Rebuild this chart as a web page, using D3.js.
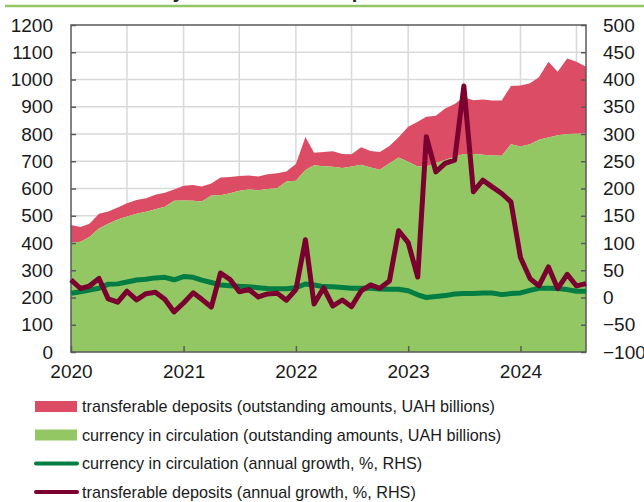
<!DOCTYPE html>
<html>
<head>
<meta charset="utf-8">
<script src="https://cdn.jsdelivr.net/npm/d3@7"></script>
<style>
  body { margin: 0; background: #fff; }
  svg { display: block; font-family: Arial, "Liberation Sans", sans-serif; }
</style>
</head>
<body>
<div id="chart"></div>
<script>
// monthly, Jan 2020 .. Aug 2024
const startMonth = [2020, 0];
const currency = [401, 405, 422, 453, 471, 486, 497, 507, 515, 524, 533, 555,
  556, 555, 552, 574, 575, 583, 592, 596, 594, 598, 601, 626,
  628, 668, 685, 682, 680, 675, 681, 687, 677, 669, 693, 714,
  698, 681, 681, 694, 705, 717, 727, 727, 724, 721, 720, 762,
  754, 762, 779, 787, 795, 800, 801, 802];
const deposits = [65, 54, 49, 54, 45, 44, 49, 51, 49, 53, 51, 41,
  54, 58, 55, 44, 65, 59, 54, 52, 50, 54, 55, 36,
  62, 121, 46, 52, 57, 52, 45, 64, 61, 65, 63, 74,
  129, 164, 182, 173, 189, 193, 208, 197, 203, 202, 203, 214,
  224, 224, 229, 278, 233, 277, 264, 245];
const currencyGrowth = [7.7, 10.7, 13.8, 17, 24.5, 25, 28.5, 32, 33.5, 36, 37, 32.5,
  38.5, 37, 32, 27.5, 23, 21.5, 20.5, 19.9, 18, 16.5, 16, 16,
  18, 24.8, 23, 20, 19.6, 18.4, 17, 17, 17, 15.5, 15.3, 15.3,
  12.5, 5, 0, 2, 3.5, 6.5, 7.2, 7.2, 8.4, 8.4, 5.3, 7.2,
  8.4, 13, 17, 17, 16.3, 14.5, 11.5, 11.4];
const depositGrowth = [32.5, 16.5, 21, 35, -2.5, -8.5, 11.5, -4.5, 7, 9.5, -3.4, -26.5,
  -10, 8.5, -3.4, -17.5, 45, 33, 10.5, 14.5, 1, 6.5, 8, -5,
  14.5, 106, -12, 17.5, -15.6, -4.6, -16.8, 12, 23, 16.8, 30.3, 122.6,
  100.6, 37.5, 295, 230.6, 246, 252, 388, 194, 215.3, 203, 190.8, 175.5,
  73.3, 34.7, 21.2, 56.1, 16.3, 42.6, 21.2, 25.5];
const yearTicks = [2020, 2021, 2022, 2023, 2024];
const leftTicks = d3.range(0, 1201, 100);
const rightTicks = d3.range(-100, 501, 50);
const legendItems = [
  {label: "transferable deposits (outstanding amounts, UAH billions)", type: "area", color: "#dc4c64"},
  {label: "currency in circulation (outstanding amounts, UAH billions)", type: "area", color: "#92c764"},
  {label: "currency in circulation (annual growth, %, RHS)", type: "line", color: "#007d43"},
  {label: "transferable deposits (annual growth, %, RHS)", type: "line", color: "#7a0030"}
];
const titleText = ["Chart 4", "Monetary base and its components"];

const width = 644, height = 502;
const margin = {top: 25, right: 58, bottom: 150, left: 71};
const innerW = width - margin.left - margin.right;
const innerH = height - margin.top - margin.bottom;

const data = currency.map((c, i) => ({
  date: new Date(Date.UTC(startMonth[0], startMonth[1] + i, 1)),
  cur: c,
  total: c + deposits[i],
  cg: currencyGrowth[i],
  dg: depositGrowth[i]
}));

const x = d3.scaleUtc()
  .domain([data[0].date, data[data.length - 1].date])
  .range([margin.left, margin.left + innerW]);
const y = d3.scaleLinear().domain([0, 1200]).range([margin.top + innerH, margin.top]);
const y2 = d3.scaleLinear().domain([-100, 500]).range([margin.top + innerH, margin.top]);

const svg = d3.select("#chart").append("svg")
  .attr("width", width)
  .attr("height", height);

// title (cut off at the top of the picture) and rule
const title = svg.append("text")
  .attr("y", -2.5)
  .attr("font-size", 20).attr("font-weight", "bold").attr("fill", "#222");
title.append("tspan").attr("x", 13).attr("fill", "#1a9c9c").text(titleText[0]);
title.append("tspan").attr("x", 95).text(titleText[1]);
svg.append("line")
  .attr("x1", 5).attr("x2", width)
  .attr("y1", 6).attr("y2", 6)
  .attr("stroke", "#92c764").attr("stroke-width", 2.5);

// gridlines
const halfYears = d3.utcMonth.every(6).range(data[0].date, data[data.length - 1].date).slice(1);
svg.append("g").selectAll("line")
  .data(halfYears)
  .join("line")
  .attr("x1", d => x(d)).attr("x2", d => x(d))
  .attr("y1", margin.top).attr("y2", margin.top + innerH)
  .attr("stroke", "#d9d9d9").attr("stroke-width", 1.5);
svg.append("g").selectAll("line")
  .data(leftTicks.slice(1, -1))
  .join("line")
  .attr("x1", margin.left).attr("x2", margin.left + innerW)
  .attr("y1", d => y(d)).attr("y2", d => y(d))
  .attr("stroke", "#d9d9d9").attr("stroke-width", 1.5);

// stacked areas
const areaTotal = d3.area()
  .x(d => x(d.date))
  .y0(d => y(d.cur))
  .y1(d => y(d.total));
const areaCur = d3.area()
  .x(d => x(d.date))
  .y0(y(0))
  .y1(d => y(d.cur));
svg.append("path").datum(data).attr("fill", legendItems[0].color).attr("d", areaTotal);
svg.append("path").datum(data).attr("fill", legendItems[1].color).attr("d", areaCur);

// frame
svg.append("rect")
  .attr("x", margin.left).attr("y", margin.top)
  .attr("width", innerW).attr("height", innerH)
  .attr("fill", "none").attr("stroke", "#5a5a5a").attr("stroke-width", 1.5);

// growth lines (RHS)
const lineCG = d3.line().x(d => x(d.date)).y(d => y2(d.cg));
const lineDG = d3.line().x(d => x(d.date)).y(d => y2(d.dg));
svg.append("path").datum(data)
  .attr("fill", "none").attr("stroke", legendItems[2].color)
  .attr("stroke-width", 5).attr("stroke-linejoin", "round")
  .attr("d", lineCG);
svg.append("path").datum(data)
  .attr("fill", "none").attr("stroke", legendItems[3].color)
  .attr("stroke-width", 5).attr("stroke-linejoin", "round")
  .attr("d", lineDG);

// axes
const fs = 19;
const leftAxis = d3.axisLeft(y).tickValues(leftTicks).tickFormat(d3.format("d"))
  .tickSizeInner(-5).tickSizeOuter(0).tickPadding(18);
const rightAxis = d3.axisRight(y2).tickValues(rightTicks).tickFormat(d3.format("d"))
  .tickSizeInner(-5).tickSizeOuter(0).tickPadding(17);
const bottomAxis = d3.axisBottom(x)
  .tickValues(yearTicks.map(yr => new Date(Date.UTC(yr, 0, 1))))
  .tickFormat(d3.utcFormat("%Y"))
  .tickSizeInner(-6).tickSizeOuter(0).tickPadding(13);

function styleAxis(g) {
  g.select(".domain").remove();
  g.selectAll(".tick line").attr("stroke", "#5a5a5a").attr("stroke-width", 1.5);
  g.selectAll(".tick text")
    .attr("font-family", "Arial, 'Liberation Sans', sans-serif")
    .attr("font-size", fs).attr("fill", "#1a1a1a");
}
svg.append("g").attr("transform", `translate(${margin.left},0)`).call(leftAxis).call(styleAxis);
svg.append("g").attr("transform", `translate(${margin.left + innerW},0)`).call(rightAxis).call(styleAxis);
svg.append("g").attr("transform", `translate(0,${margin.top + innerH})`).call(bottomAxis).call(styleAxis);

// legend
const legend = svg.append("g").attr("transform", "translate(35,406.5)");
const rows = legend.selectAll("g")
  .data(legendItems)
  .join("g")
  .attr("transform", (d, i) => `translate(0,${i * 28.5})`);
rows.filter(d => d.type === "area").append("rect")
  .attr("x", 0).attr("y", -5.5).attr("width", 42).attr("height", 11)
  .attr("fill", d => d.color);
rows.filter(d => d.type === "line").append("line")
  .attr("x1", 1).attr("x2", 42).attr("y1", 0).attr("y2", 0)
  .attr("stroke", d => d.color).attr("stroke-width", 4).attr("stroke-linecap", "round");
rows.append("text")
  .attr("x", 47).attr("y", 5.8)
  .attr("font-size", 16.2).attr("fill", "#1a1a1a")
  .text(d => d.label);
</script>
</body>
</html>
